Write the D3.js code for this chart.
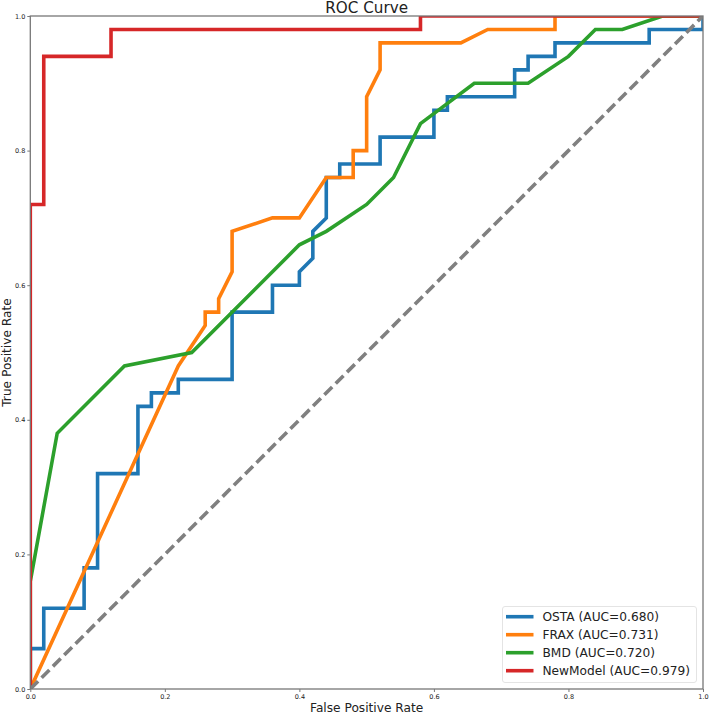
<!DOCTYPE html>
<html>
<head>
<meta charset="utf-8">
<script src="https://cdn.jsdelivr.net/npm/d3@7"></script>
<style>
    body { margin: 0; background: #fff; }
    svg { display: block; font-family: "DejaVu Sans", sans-serif; }
</style>
</head>
<body>
<div id="chart"></div>
<script>
(function (d3) {
    "use strict";

    /***** Données *****/
    const ostaFpr = [0, 0, 0.02, 0.02, 0.08, 0.08, 0.10, 0.10, 0.16, 0.16, 0.18, 0.18, 0.22, 0.22, 0.30, 0.30, 0.36, 0.36, 0.40, 0.40, 0.42, 0.42, 0.44, 0.44, 0.46, 0.46, 0.52, 0.52, 0.60, 0.60, 0.62, 0.62, 0.72, 0.72, 0.74, 0.74, 0.78, 0.78, 0.92, 0.92, 1.0, 1.0];
    const ostaTpr = [0, 0.06, 0.06, 0.12, 0.12, 0.18, 0.18, 0.32, 0.32, 0.42, 0.42, 0.44, 0.44, 0.46, 0.46, 0.56, 0.56, 0.60, 0.60, 0.62, 0.64, 0.68, 0.70, 0.76, 0.76, 0.78, 0.78, 0.82, 0.82, 0.86, 0.86, 0.88, 0.88, 0.92, 0.92, 0.94, 0.94, 0.96, 0.96, 0.98, 0.98, 1.0];

    const fraxFpr = [0, 0.22, 0.26, 0.26, 0.28, 0.28, 0.30, 0.30, 0.36, 0.40, 0.44, 0.48, 0.48, 0.50, 0.50, 0.52, 0.52, 0.64, 0.68, 0.78, 0.78, 1.0];
    const fraxTpr = [0, 0.48, 0.54, 0.56, 0.56, 0.58, 0.62, 0.68, 0.70, 0.70, 0.76, 0.76, 0.80, 0.80, 0.88, 0.92, 0.96, 0.96, 0.98, 0.98, 1.0, 1.0];

    const bmdFpr = [0, 0, 0.04, 0.14, 0.24, 0.40, 0.44, 0.50, 0.54, 0.58, 0.66, 0.74, 0.80, 0.84, 0.88, 0.94, 1.0];
    const bmdTpr = [0, 0.16, 0.38, 0.48, 0.50, 0.66, 0.68, 0.72, 0.76, 0.84, 0.90, 0.90, 0.94, 0.98, 0.98, 1.0, 1.0];

    const newFpr = [0, 0, 0.02, 0.02, 0.12, 0.12, 0.58, 0.58, 1.0];
    const newTpr = [0, 0.72, 0.72, 0.94, 0.94, 0.98, 0.98, 1.0, 1.0];

    const modelNames = ["OSTA (AUC=0.680)", "FRAX (AUC=0.731)", "BMD (AUC=0.720)", "NewModel (AUC=0.979)"];
    const modelColors = ["#1f77b4", "#ff7f0e", "#2ca02c", "#d62728"];
    const tickValues = [0, 0.2, 0.4, 0.6, 0.8, 1.0];

    const series = [
        { fpr: ostaFpr, tpr: ostaTpr },
        { fpr: fraxFpr, tpr: fraxTpr },
        { fpr: bmdFpr, tpr: bmdTpr },
        { fpr: newFpr, tpr: newTpr }
    ].map((s, i) => ({
        name: modelNames[i],
        color: modelColors[i],
        points: s.fpr.map((f, j) => [f, s.tpr[j]])
    }));

    /***** Configuration *****/
    const width = 709, height = 714;
    const margin = { top: 16, right: 6, bottom: 25, left: 30.3 };
    const plotW = width - margin.left - margin.right;
    const plotH = height - margin.top - margin.bottom;

    const x = d3.scaleLinear().domain([0, 1]).range([0, plotW]);
    const y = d3.scaleLinear().domain([0, 1]).range([plotH, 0]);

    const svg = d3.select("#chart").append("svg")
        .attr("width", width)
        .attr("height", height);

    svg.append("defs").append("clipPath")
        .attr("id", "clip")
        .append("rect")
        .attr("width", plotW)
        .attr("height", plotH);

    const g = svg.append("g")
        .attr("transform", "translate(" + margin.left + "," + margin.top + ")");

    // Axes
    const xAxis = d3.axisBottom(x).tickValues(tickValues).tickFormat(d3.format(".1f")).tickSize(3).tickPadding(2);
    const yAxis = d3.axisLeft(y).tickValues(tickValues).tickFormat(d3.format(".1f")).tickSize(3).tickPadding(2);

    const gx = g.append("g").attr("transform", "translate(0," + plotH + ")").call(xAxis);
    const gy = g.append("g").call(yAxis);
    [gx, gy].forEach(a => {
        a.select(".domain").remove();
        a.selectAll(".tick line").attr("stroke", "#555").attr("stroke-width", 0.8);
        a.selectAll(".tick text").attr("fill", "#222").style("font-size", "6.5px").style("font-family", "DejaVu Sans");
    });

    // Courbes
    const line = d3.line().x(d => x(d[0])).y(d => y(d[1]));
    const curves = g.append("g").attr("clip-path", "url(#clip)");
    series.forEach(s => {
        curves.append("path")
            .attr("d", line(s.points))
            .attr("fill", "none")
            .attr("stroke", s.color)
            .attr("stroke-width", 3.6)
            .attr("stroke-linejoin", "miter");
    });

    // Diagonale
    curves.append("path")
        .attr("d", line([[0, 0], [1, 1]]))
        .attr("fill", "none")
        .attr("stroke", "#808080")
        .attr("stroke-width", 3.6)
        .attr("stroke-dasharray", "11,5");

    // Cadre
    g.append("rect")
        .attr("width", plotW)
        .attr("height", plotH)
        .attr("fill", "none")
        .attr("stroke", "#777")
        .attr("stroke-width", 1.3);

    // Titres
    svg.append("text")
        .attr("x", margin.left + plotW / 2)
        .attr("y", 12.5)
        .attr("text-anchor", "middle")
        .style("font-size", "15.2px")
        .attr("fill", "#222")
        .text("ROC Curve");

    svg.append("text")
        .attr("x", margin.left + plotW / 2)
        .attr("y", 712)
        .attr("text-anchor", "middle")
        .style("font-size", "12.2px")
        .attr("fill", "#222")
        .text("False Positive Rate");

    svg.append("text")
        .attr("transform", "translate(11," + (margin.top + plotH / 2) + ") rotate(-90)")
        .attr("text-anchor", "middle")
        .style("font-size", "12.2px")
        .attr("fill", "#222")
        .text("True Positive Rate");

    // Légende
    const legend = svg.append("g").attr("transform", "translate(502.5,606.5)");
    legend.append("rect")
        .attr("width", 194)
        .attr("height", 76)
        .attr("rx", 2.5)
        .attr("fill", "#fff")
        .attr("fill-opacity", 0.8)
        .attr("stroke", "#ddd")
        .attr("stroke-width", 0.8);

    series.forEach((s, i) => {
        const row = legend.append("g").attr("transform", "translate(0," + (10.2 + i * 18) + ")");
        row.append("line")
            .attr("x1", 3.5).attr("x2", 31)
            .attr("stroke", s.color)
            .attr("stroke-width", 3.6);
        row.append("text")
            .attr("x", 40)
            .attr("y", 4.4)
            .style("font-size", "12.2px")
            .attr("fill", "#222")
            .text(s.name);
    });

})(d3);
</script>
</body>
</html>
